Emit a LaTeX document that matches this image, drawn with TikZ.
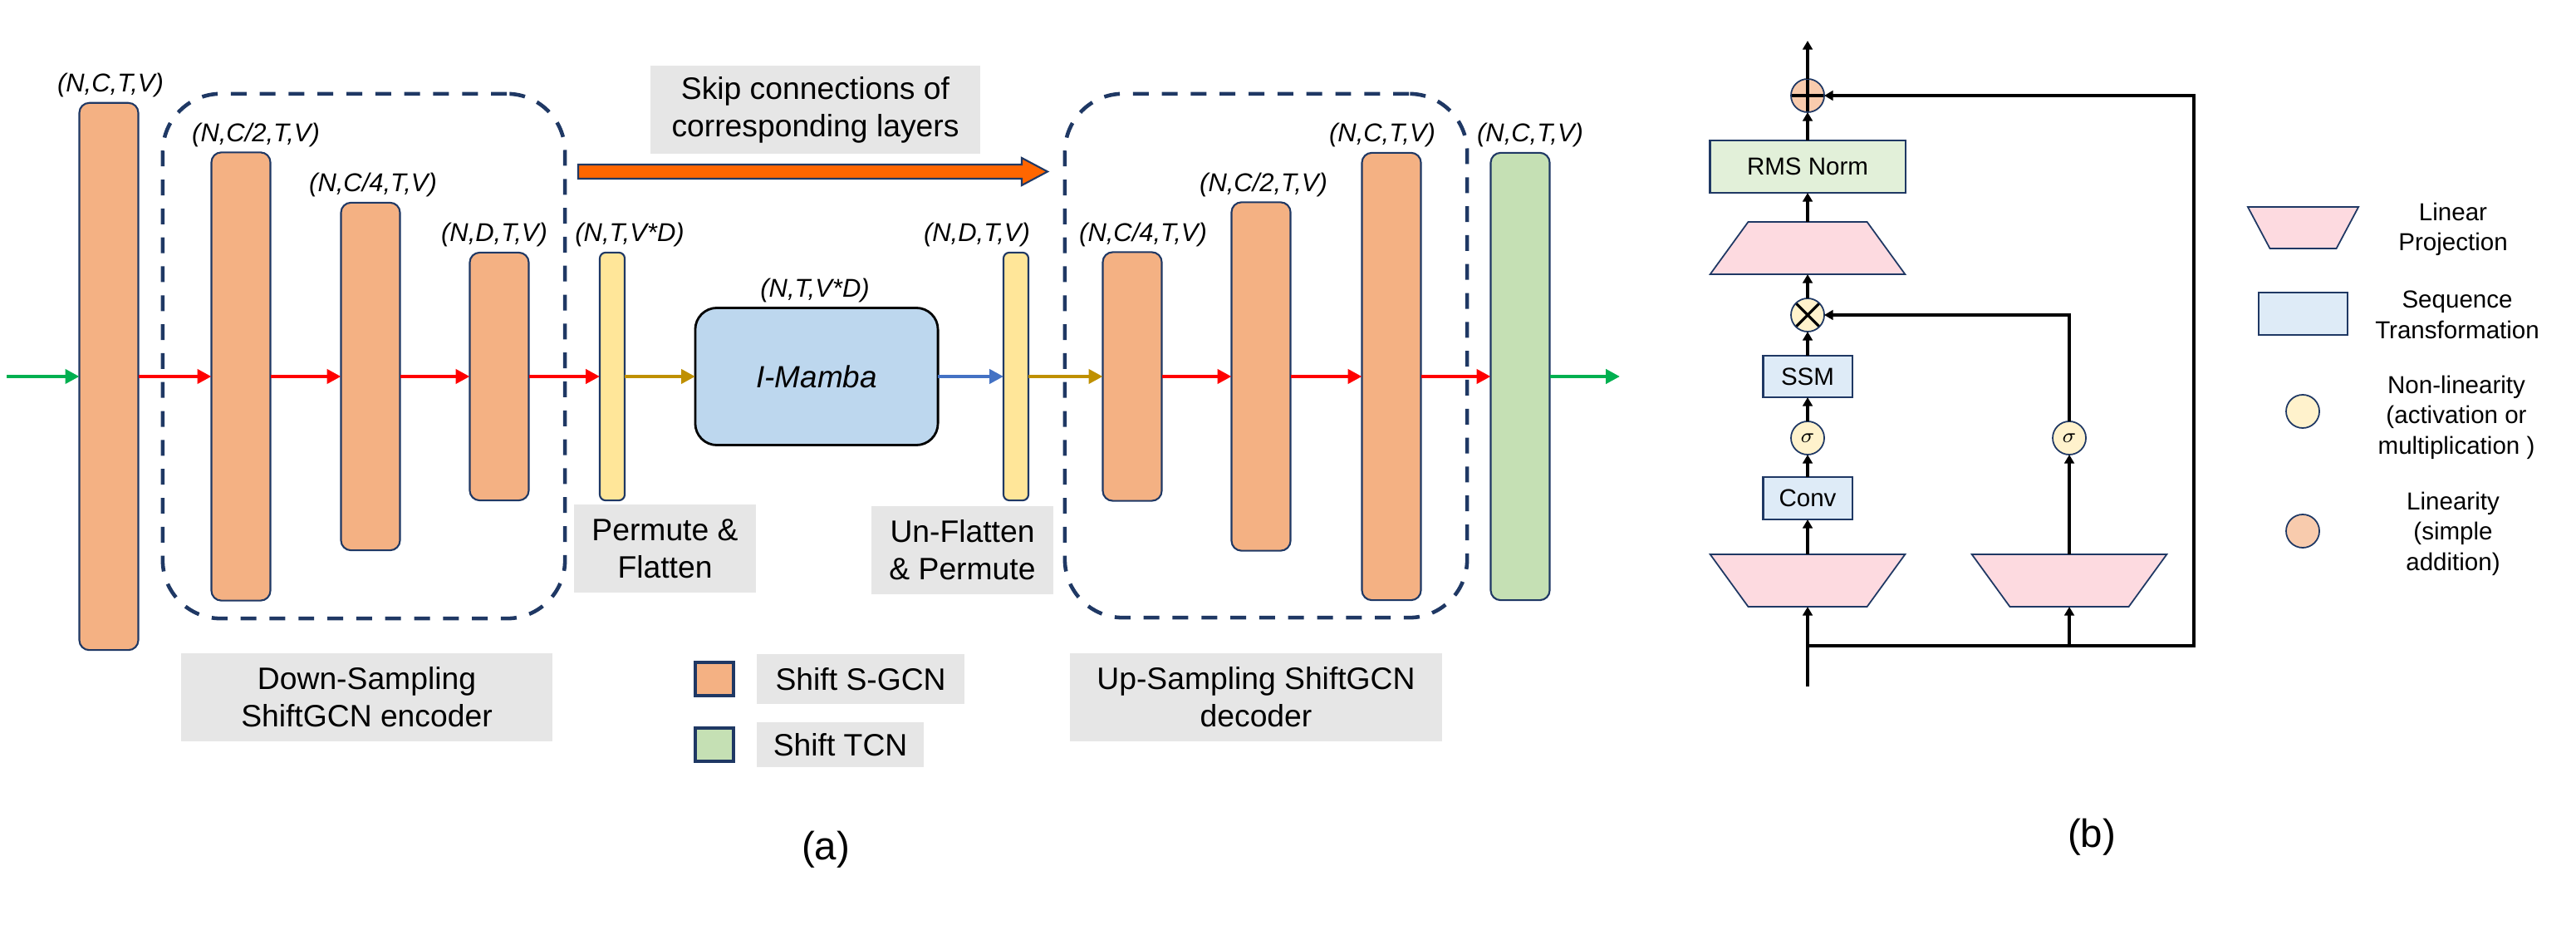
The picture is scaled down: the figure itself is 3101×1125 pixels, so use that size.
\documentclass[tikz,border=0pt]{standalone}
\usepackage{fontspec}
\setmainfont{Liberation Sans}
\usetikzlibrary{arrows.meta,positioning,shapes.geometric}

\definecolor{navy}{RGB}{31,56,100}
\definecolor{sgcn}{RGB}{244,177,131}
\definecolor{tcn}{RGB}{197,224,180}
\definecolor{permyellow}{RGB}{255,230,153}
\definecolor{mambablue}{RGB}{189,215,238}
\definecolor{boxgray}{RGB}{230,230,230}
\definecolor{skiporange}{RGB}{255,102,0}
\definecolor{arrred}{RGB}{255,0,0}
\definecolor{arrgold}{RGB}{191,144,0}
\definecolor{arrblue}{RGB}{68,114,196}
\definecolor{arrgreen}{RGB}{0,176,80}
\definecolor{normgreen}{RGB}{226,240,217}
\definecolor{seqblue}{RGB}{222,235,247}
\definecolor{projpink}{RGB}{253,218,224}
\definecolor{actyellow}{RGB}{255,242,204}
\definecolor{addorange}{RGB}{248,203,173}

\begin{document}
\begin{tikzpicture}[x=0.01cm,y=-0.01cm,
  every node/.style={outer sep=0pt},
  gcnbar/.style={draw=navy,line width=0.6pt,rounded corners=3.4pt,minimum width=0.71cm,inner sep=0pt},
  dimlbl/.style={font=\fontsize{8.8}{10}\selectfont\itshape,inner sep=0pt},
  txtbox/.style={fill=boxgray,align=center,font=\fontsize{10.6}{12.8}\selectfont},
  stage/.style={draw=navy,line width=1.3pt,dash pattern=on 5.4pt off 4.5pt,rounded corners=0.7cm},
  mainarrow/.style={line width=1.4pt,-{Triangle[length=4.8pt,width=4.8pt]}},
  wire/.style={line width=1.1pt,-{Triangle[length=3pt,width=3.3pt]}},
  proj/.style={trapezium,draw=navy,line width=0.5pt,fill=projpink,trapezium angle=54,
    inner xsep=0.715cm,inner ysep=0.315cm,minimum width=0pt,minimum height=0pt},
  seqbox/.style={draw=navy,line width=0.6pt,fill=seqblue,minimum width=1.07cm,minimum height=0.50cm,
    font=\fontsize{8.4}{10}\selectfont},
  act/.style={circle,draw=navy,line width=0.5pt,fill=actyellow,minimum size=0.40cm,inner sep=0pt,
    font=\fontsize{7.5}{8}\selectfont},
  opadd/.style={act,fill=addorange,path picture={
    \draw[black,line width=0.9pt] (path picture bounding box.west) -- (path picture bounding box.east)
      (path picture bounding box.north) -- (path picture bounding box.south);}},
  opmul/.style={act,path picture={
    \draw[black,line width=0.9pt] (path picture bounding box.north west) -- (path picture bounding box.south east)
      (path picture bounding box.north east) -- (path picture bounding box.south west);}},
  legtxt/.style={align=center,font=\fontsize{8.4}{10.4}\selectfont}
  ]
  \useasboundingbox (0,0) rectangle (3101,1125);
  \def\ym{453}

  % (a) ShiftGCN encoder / decoder
  \foreach \n/\x/\h/\c/\lbl/\dx in {e1/131/6.58/sgcn/{(N,C,T,V)}/0.02,
      e2/290/5.39/sgcn/{(N,C/2,T,V)}/0.18, e3/446/4.18/sgcn/{(N,C/4,T,V)}/0.03,
      e4/601/2.98/sgcn/{(N,D,T,V)}/-0.06, d1/1363/2.99/sgcn/{(N,C/4,T,V)}/0.13,
      d2/1518/4.19/sgcn/{(N,C/2,T,V)}/0.03, d3/1675/5.38/sgcn/{(N,C,T,V)}/-0.11,
      tc/1830/5.38/tcn/{(N,C,T,V)}/0.12}{
    \node[gcnbar,fill=\c,minimum height=\h cm] (\n) at (\x,\ym) {};
    \node[dimlbl,anchor=base] (\n-lbl) at ([xshift=\dx cm,yshift=0.13cm]\n.north) {\lbl};
  }

  \node[gcnbar,fill=permyellow,rounded corners=2pt,minimum width=0.30cm,minimum height=2.98cm] (p1) at (737,\ym) {};
  \node[gcnbar,fill=permyellow,rounded corners=2pt,minimum width=0.30cm,minimum height=2.98cm] (p2) at (1223,\ym) {};
  \node[draw=black,line width=0.8pt,fill=mambablue,rounded corners=7.4pt,minimum width=2.92cm,
    minimum height=1.65cm,font=\fontsize{10.5}{12}\selectfont\itshape] (mb) at (983,\ym) {I-Mamba};
  \node[dimlbl,anchor=base] (p1-lbl) at ([xshift=0.21cm,yshift=0.13cm]p1.north) {(N,T,V*D)};
  \node[dimlbl,anchor=base] (p2-lbl) at ([xshift=-0.47cm,yshift=0.13cm]p2.north) {(N,D,T,V)};
  \node[dimlbl,anchor=base] (mb-lbl) at ([xshift=-0.02cm,yshift=0.13cm]mb.north) {(N,T,V*D)};

  \coordinate (in) at (8,\ym);
  \coordinate (out) at (1950,\ym);
  \draw[mainarrow,arrgreen] (in) -- (e1);
  \foreach \a/\b in {e1/e2,e2/e3,e3/e4,e4/p1,d1/d2,d2/d3,d3/tc}
    \draw[mainarrow,arrred] (\a) -- (\b);
  \draw[mainarrow,arrgold] (p1) -- (mb);
  \draw[mainarrow,arrblue] (mb) -- (p2);
  \draw[mainarrow,arrgold] (p2) -- (d1);
  \draw[mainarrow,arrgreen] (tc) -- (out);

  \node[stage,minimum width=4.84cm,minimum height=6.31cm] (enc) at (438,428.5) {};
  \node[stage,minimum width=4.84cm,minimum height=6.30cm] (dec) at (1524,428) {};

  % skip connections
  \draw[navy,line width=0.6pt,fill=skiporange] (696,198) -- (1230,198) -- (1230,190) -- (1261,206.5)
    -- (1230,223) -- (1230,215) -- (696,215) -- cycle;
  \node[txtbox,minimum width=3.97cm,minimum height=1.06cm] (skiptxt) at (981.5,132) {Skip connections of\\corresponding layers};

  \node[txtbox,minimum width=2.19cm,minimum height=1.06cm] (permtxt) at (800.5,660) {Permute \&\\Flatten};
  \node[txtbox,minimum width=2.19cm,minimum height=1.06cm] (unpermtxt) at (1158.5,662) {Un-Flatten\\\& Permute};
  \node[txtbox,minimum width=4.47cm,minimum height=1.06cm] (enctxt) at (441.5,839) {Down-Sampling\\ShiftGCN encoder};
  \node[txtbox,minimum width=4.48cm,minimum height=1.06cm] (dectxt) at (1512,839) {Up-Sampling ShiftGCN\\decoder};

  \node[draw=navy,line width=1pt,fill=sgcn,minimum width=0.46cm,minimum height=0.40cm] (keysgcn) at (860,817) {};
  \node[txtbox,minimum width=2.50cm,minimum height=0.60cm,right=0.28cm of keysgcn] (keysgcn-txt) {Shift S-GCN};
  \node[draw=navy,line width=1pt,fill=tcn,minimum width=0.46cm,minimum height=0.40cm] (keytcn) at (860,896) {};
  \node[txtbox,minimum width=2.01cm,minimum height=0.54cm,right=0.28cm of keytcn] (keytcn-txt) {Shift TCN};

  \node[font=\fontsize{13.5}{15}\selectfont] (capa) at (994,1022) {(a)};

  % (b) I-Mamba block
  \node[opadd] (add) at (2176,115) {};
  \node[seqbox,fill=normgreen,minimum width=2.35cm,minimum height=0.63cm] (rms) at (2176,200.5) {RMS Norm};
  \node[proj] (projo) at (2176,298.5) {};
  \node[opmul] (mul) at (2176,379) {};
  \node[seqbox] (ssm) at (2176,453) {SSM};
  \node[act] (sig1) at (2176,527) {$\sigma$};
  \node[seqbox,minimum height=0.51cm] (conv) at (2176,599.5) {Conv};
  \node[proj,shape border rotate=180] (projl) at (2176,698.5) {};
  \node[proj,shape border rotate=180] (projr) at (2491,698.5) {};
  \node[act] (sig2) at (2491,527) {$\sigma$};

  \coordinate (bin) at (2176,826);
  \coordinate (split) at (2176,777);
  \coordinate (skip) at (2641,777);
  \coordinate (bout) at (2176,49);

  \draw[wire] (bin) -- (projl);
  \draw[wire] (split) -- (skip) |- (add);
  \draw[wire] (split -| projr) -- (projr);
  \foreach \a/\b in {projl/conv,conv/sig1,sig1/ssm,ssm/mul,mul/projo,projo/rms,rms/add,add/bout,projr/sig2}
    \draw[wire] (\a) -- (\b);
  \draw[wire] (sig2) |- (mul);

  % legend
  \node[proj,inner xsep=0.40cm,inner ysep=0.25cm,trapezium angle=62,shape border rotate=180] (keyproj) at (2772.5,274) {};
  \node[legtxt] (keyproj-txt) at (2953,276) {Linear\\Projection};
  \node[seqbox,minimum height=0.51cm] (keyseq) at (2772.5,377.5) {};
  \node[legtxt] (keyseq-txt) at (2958,379) {Sequence\\Transformation};
  \node[act] (keyact) at (2772,495) {};
  \node[legtxt] (keyact-txt) at (2957,502) {Non-linearity\\(activation or\\multiplication )};
  \node[act,fill=addorange] (keyadd) at (2772,639) {};
  \node[legtxt] (keyadd-txt) at (2953,642) {Linearity\\(simple\\addition)};

  \node[font=\fontsize{13.5}{15}\selectfont] (capb) at (2518,1007) {(b)};
\end{tikzpicture}
\end{document}
